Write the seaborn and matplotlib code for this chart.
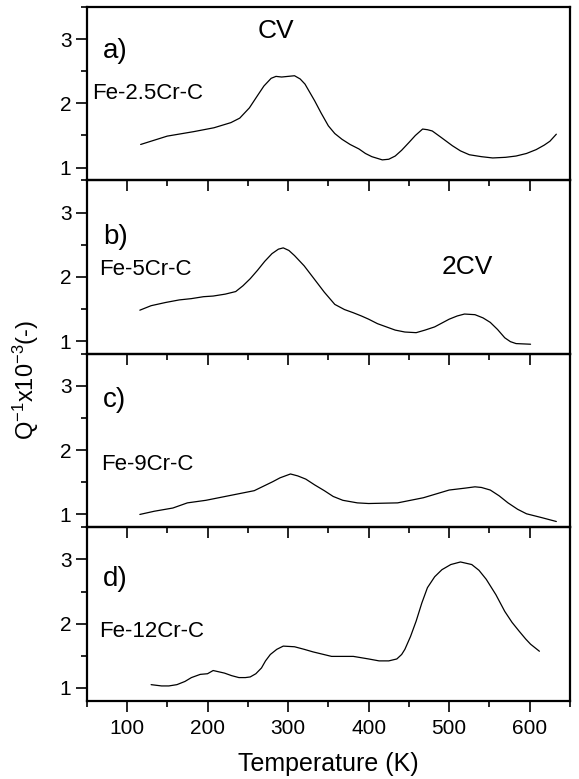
import matplotlib
matplotlib.use("Agg")
import matplotlib.pyplot as plt
from matplotlib.ticker import MultipleLocator
import seaborn as sns
import pandas as pd

# ---- data ----
a_T = [117, 150, 183, 208, 229, 240, 252, 262, 270, 279, 285, 292, 300, 308, 315, 321,
       327, 333, 341, 350, 358, 367, 377, 388, 396, 404, 417, 425, 433, 441, 450, 458,
       467, 473, 479, 490, 504, 514, 525, 540, 554, 570, 583, 596, 608, 618, 625, 633]
a_Q = [1.36, 1.49, 1.56, 1.62, 1.70, 1.77, 1.93, 2.12, 2.27, 2.39, 2.42, 2.41, 2.42, 2.43,
       2.38, 2.30, 2.17, 2.04, 1.85, 1.65, 1.53, 1.44, 1.36, 1.29, 1.22, 1.17, 1.12, 1.13,
       1.18, 1.27, 1.39, 1.50, 1.60, 1.59, 1.57, 1.47, 1.34, 1.26, 1.20, 1.17, 1.15, 1.16,
       1.18, 1.22, 1.28, 1.35, 1.41, 1.52]

b_T = [116, 130, 148, 165, 180, 195, 207, 222, 235, 244, 253, 262, 271, 280, 288, 294,
       301, 308, 320, 331, 345, 358, 370, 381, 391, 400, 411, 422, 433, 445, 459, 470,
       482, 491, 500, 510, 519, 532, 542, 551, 560, 569, 576, 583, 601]
b_Q = [1.48, 1.55, 1.60, 1.64, 1.66, 1.69, 1.70, 1.73, 1.77, 1.86, 1.97, 2.10, 2.24, 2.36,
       2.43, 2.45, 2.41, 2.33, 2.17, 1.99, 1.76, 1.57, 1.49, 1.44, 1.39, 1.34, 1.27, 1.22,
       1.17, 1.14, 1.13, 1.17, 1.22, 1.28, 1.34, 1.39, 1.42, 1.41, 1.36, 1.29, 1.18, 1.05,
       0.99, 0.96, 0.95]

c_T = [116, 134, 157, 175, 198, 226, 258, 281, 290, 303, 312, 322, 333, 345, 356, 368,
       386, 400, 436, 468, 500, 520, 532, 540, 551, 562, 573, 585, 596, 615, 633]
c_Q = [1.00, 1.05, 1.10, 1.18, 1.22, 1.29, 1.37, 1.51, 1.57, 1.63, 1.60, 1.55, 1.46, 1.37,
       1.28, 1.22, 1.18, 1.17, 1.18, 1.26, 1.38, 1.41, 1.43, 1.42, 1.38, 1.29, 1.18, 1.08,
       1.01, 0.95, 0.89]

d_T = [130, 143, 152, 162, 172, 180, 191, 200, 207, 214, 221, 230, 239, 247, 253, 260,
       267, 272, 278, 286, 294, 308, 320, 331, 354, 381, 400, 413, 425, 435, 441, 445,
       452, 459, 466, 473, 482, 491, 502, 514, 528, 537, 546, 558, 569, 578, 587, 595,
       601, 612]
d_Q = [1.05, 1.03, 1.03, 1.05, 1.10, 1.16, 1.21, 1.22, 1.27, 1.25, 1.23, 1.19, 1.16, 1.16,
       1.17, 1.22, 1.31, 1.42, 1.52, 1.60, 1.65, 1.64, 1.60, 1.56, 1.49, 1.49, 1.45, 1.42,
       1.42, 1.45, 1.52, 1.60, 1.80, 2.04, 2.32, 2.56, 2.73, 2.84, 2.92, 2.96, 2.92, 2.83,
       2.69, 2.45, 2.19, 2.02, 1.88, 1.76, 1.68, 1.57]

panel_letters = ["a)", "b)", "c)", "d)"]
alloys = ["Fe-2.5Cr-C", "Fe-5Cr-C", "Fe-9Cr-C", "Fe-12Cr-C"]
x_ticks = [100, 200, 300, 400, 500, 600]
y_ticks = [1, 2, 3]

sns.set_style("ticks")
plt.rcParams["font.family"] = ["Liberation Sans", "DejaVu Sans"]
plt.rcParams["mathtext.fontset"] = "custom"
plt.rcParams["mathtext.rm"] = "Liberation Sans"
plt.rcParams["mathtext.it"] = "Liberation Sans"
for k in ["text.color", "axes.labelcolor", "xtick.color", "ytick.color", "axes.edgecolor"]:
    plt.rcParams[k] = "black"

fig, axes = plt.subplots(4, 1, figsize=(5.79, 7.79), dpi=100, sharex=True,
                         gridspec_kw=dict(hspace=0))
fig.subplots_adjust(left=0.1497, right=0.9845, bottom=0.1005, top=0.991)

series = [(a_T, a_Q), (b_T, b_Q), (c_T, c_Q), (d_T, d_Q)]
letter_y = [2.82, 2.62, 2.78, 2.69]
alloy_y = [2.15, 2.12, 1.78, 1.88]
alloy_x = [57, 66, 68, 66]

for i, ax in enumerate(axes):
    T, Q = series[i]
    df = pd.DataFrame({"T": T, "Q": Q})
    sns.lineplot(data=df, x="T", y="Q", ax=ax, color="black", linewidth=0.9, sort=False)
    ax.patch.set_visible(False)
    ax.set_xlim(50, 650)
    ax.set_ylim(0.8, 3.5)
    ax.set_xticks(x_ticks)
    ax.xaxis.set_minor_locator(MultipleLocator(50))
    ax.set_yticks(y_ticks)
    ax.yaxis.set_minor_locator(MultipleLocator(0.5))
    ax.tick_params(axis="both", which="major", direction="out", length=8, width=1.2,
                   labelsize=15, colors="black", pad=3)
    ax.tick_params(axis="both", which="minor", direction="out", length=4.5, width=1.2,
                   color="black")
    ax.tick_params(top=False, right=False, which="both")
    for s in ax.spines.values():
        s.set_visible(True)
        s.set_linewidth(1.6)
        s.set_color("black")
    ax.set_xlabel("")
    ax.set_ylabel("")
    if i < 3:
        ax.tick_params(axis="x", labelbottom=False)
    ax.text(70, letter_y[i], panel_letters[i], fontsize=20, ha="left", va="center")
    ax.text(alloy_x[i], alloy_y[i], alloys[i], fontsize=16, ha="left", va="center")

axes[0].text(285, 3.13, "CV", fontsize=19, ha="center", va="center")
axes[1].text(522, 2.15, "2CV", fontsize=19, ha="center", va="center")

axes[3].tick_params(axis="x", labelsize=15, pad=5)
axes[3].set_xlabel("Temperature (K)", fontsize=18, labelpad=10)

fig.text(0.045, 0.512, r"Q$^{-1}$x10$^{-3}$(-)", rotation=90, fontsize=17,
         ha="center", va="center")

fig.savefig("out.png", dpi=100)
